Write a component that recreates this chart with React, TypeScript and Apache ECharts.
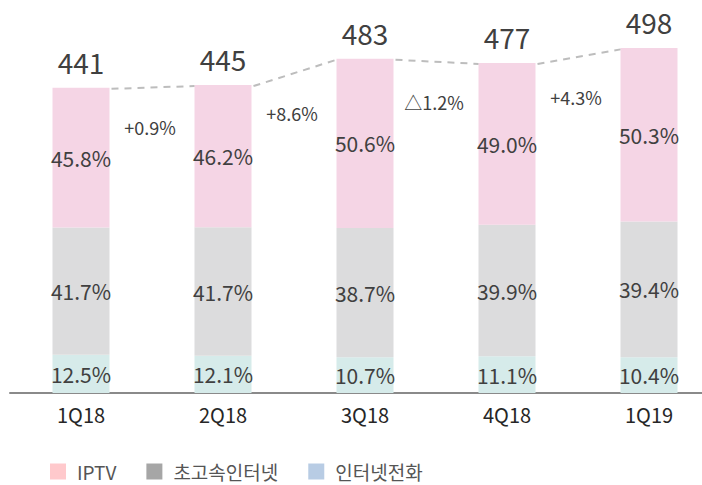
import React, { useEffect, useRef } from "react";
import * as echarts from "echarts";

const categories = ["1Q18", "2Q18", "3Q18", "4Q18", "1Q19"];
const totals = [441, 445, 483, 477, 498];
const iptvPct = [45.8, 46.2, 50.6, 49.0, 50.3];
const broadbandPct = [41.7, 41.7, 38.7, 39.9, 39.4];
const voipPct = [12.5, 12.1, 10.7, 11.1, 10.4];
const growthLabels = ["", "+0.9%", "+8.6%", "△1.2%", "+4.3%"];
const seriesNames = ["IPTV", "초고속인터넷", "인터넷전화"];

const FONT = "'Noto Sans CJK KR', 'Noto Sans', sans-serif";
const TEXT = "#404040";

export default function App() {
  const ref = useRef<HTMLDivElement>(null);
  useEffect(() => {
    if (!ref.current) return;
    const chart = echarts.init(ref.current, undefined, { renderer: "svg" });
    const seg = (pcts: number[]) => pcts.map((p, i) => (totals[i] * p) / 100);
    const barWidth = 57;
    const pctLabel = (pcts: number[]) => ({
      show: true,
      position: "inside",
      formatter: (p: any) => pcts[p.dataIndex].toFixed(1) + "%",
      color: TEXT,
      fontSize: 21,
      fontFamily: FONT,
    });
    chart.setOption({
      animation: false,
      textStyle: { fontFamily: FONT },
      grid: { left: 10, right: 0, top: 47, bottom: 92 },
      legend: {
        left: 50,
        top: 462,
        padding: 0,
        icon: "rect",
        itemWidth: 16,
        itemHeight: 16,
        itemGap: 30,
        textStyle: {
          color: "#555555",
          fontSize: 19,
          lineHeight: 16,
          fontFamily: FONT,
          padding: [0, 0, 0, 6],
        },
        data: [
          { name: seriesNames[0], itemStyle: { color: "#ffc9cc" } },
          { name: seriesNames[1], itemStyle: { color: "#a6a6a6" } },
          { name: seriesNames[2], itemStyle: { color: "#b8cce4" } },
        ],
      },
      xAxis: {
        type: "category",
        data: categories,
        axisLine: { lineStyle: { color: "#8a8a8a", width: 2 } },
        axisTick: { show: false },
        axisLabel: { color: "#262626", fontSize: 20, margin: 11, fontFamily: FONT },
      },
      yAxis: { type: "value", min: 0, max: 500, show: false, splitLine: { show: false } },
      series: [
        {
          name: seriesNames[2],
          type: "bar",
          stack: "s",
          barWidth,
          data: seg(voipPct),
          itemStyle: { color: "#d6ebea" },
          label: pctLabel(voipPct),
        },
        {
          name: seriesNames[1],
          type: "bar",
          stack: "s",
          barWidth,
          data: seg(broadbandPct),
          itemStyle: { color: "#dcdcdd" },
          label: pctLabel(broadbandPct),
        },
        {
          name: seriesNames[0],
          type: "bar",
          stack: "s",
          barWidth,
          data: seg(iptvPct),
          itemStyle: { color: "#f5d5e5" },
          label: pctLabel(iptvPct),
        },
        {
          type: "custom",
          name: "overlay",
          data: totals.map((t, i) => [i, t]),
          z: 10,
          renderItem: (params: any, api: any) => {
            const i = params.dataIndex;
            const pt = api.coord([i, totals[i]]);
            const half = barWidth / 2;
            const children: any[] = [
              {
                type: "text",
                style: {
                  text: String(totals[i]),
                  x: pt[0],
                  y: pt[1] - 26,
                  align: "center",
                  verticalAlign: "middle",
                  fontSize: 28,
                  fontFamily: FONT,
                  fill: TEXT,
                },
              },
            ];
            if (i > 0) {
              const prev = api.coord([i - 1, totals[i - 1]]);
              const x1 = prev[0] + half + 2;
              const y1 = prev[1] + 1;
              const x2 = pt[0] - half;
              const y2 = pt[1] + 1;
              children.push({
                type: "line",
                shape: { x1, y1, x2, y2 },
                style: { stroke: "#bdbdbd", lineWidth: 2, lineDash: [7, 6] },
              });
              children.push({
                type: "text",
                style: {
                  text: growthLabels[i],
                  x: (prev[0] + pt[0]) / 2 - 2,
                  y: (y1 + y2) / 2 + 40,
                  align: "center",
                  verticalAlign: "middle",
                  fontSize: 18,
                  fontFamily: FONT,
                  fill: TEXT,
                },
              });
            }
            return { type: "group", children };
          },
        },
      ],
    });
    return () => chart.dispose();
  }, []);
  return (
    <div style={{ width: 702, height: 485, position: "absolute", left: 0, top: 0, overflow: "hidden" }}>
      <div ref={ref} style={{ width: 720, height: 485 }} />
    </div>
  );
}
